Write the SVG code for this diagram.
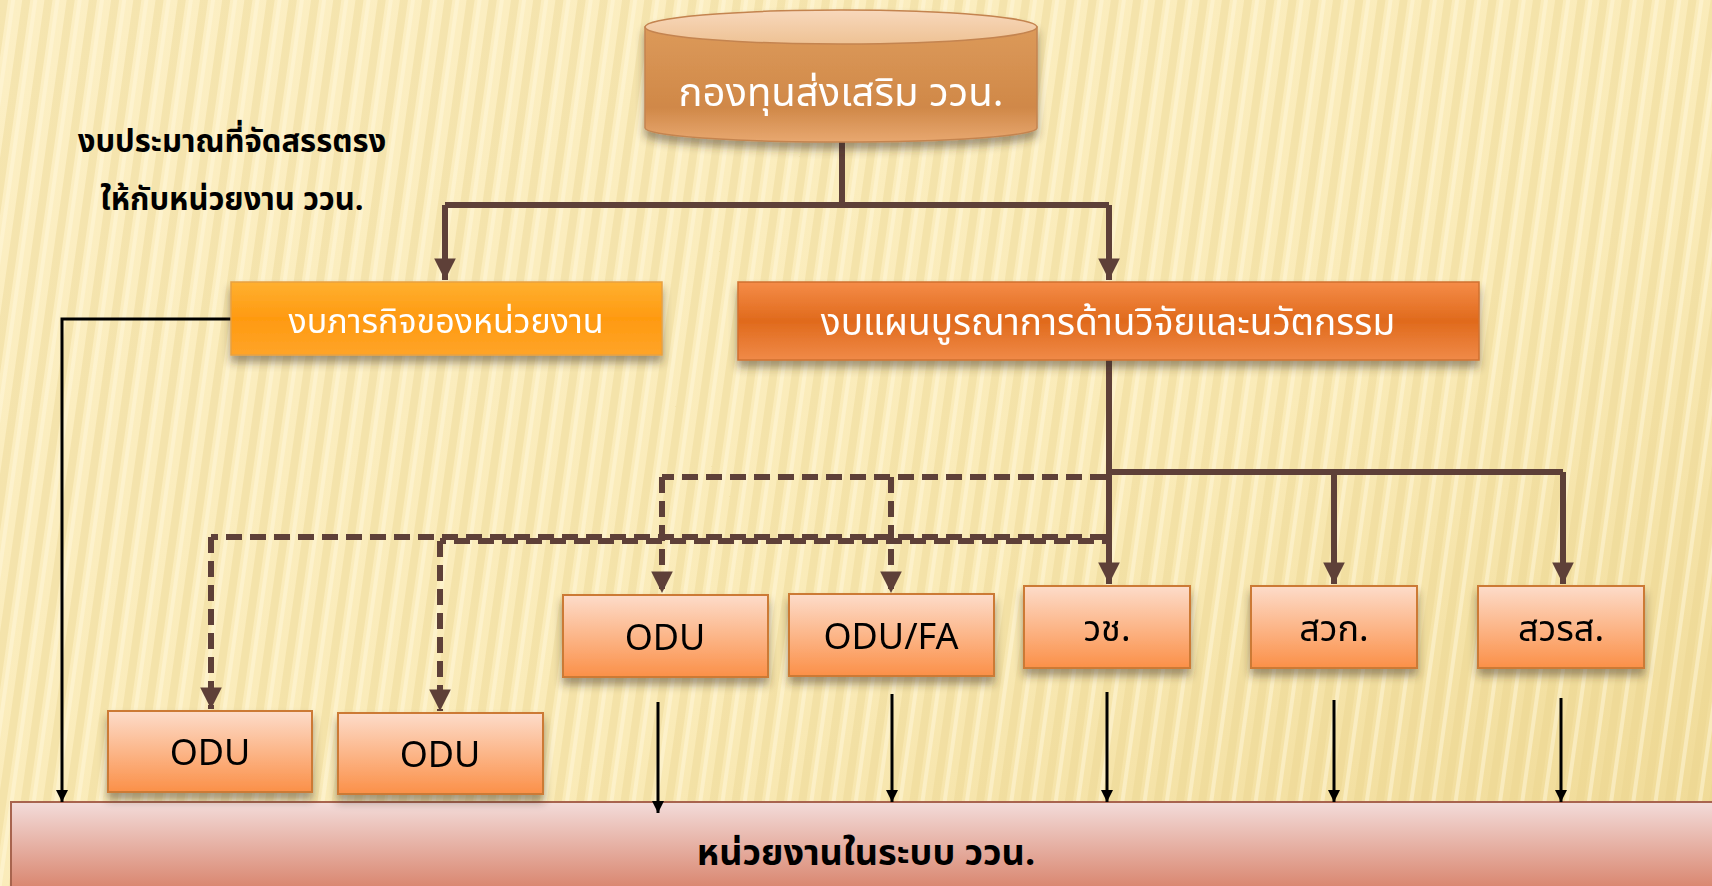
<svg xmlns="http://www.w3.org/2000/svg" width="1712" height="886" viewBox="0 0 1712 886">
<defs>
<linearGradient id="bg" x1="0" y1="0" x2="1" y2="1">
<stop offset="0" stop-color="#FCEFC4"/>
<stop offset="0.6" stop-color="#FAEBB8"/>
<stop offset="1" stop-color="#EFD994"/>
</linearGradient>
<pattern id="stripes" width="22" height="40" patternUnits="userSpaceOnUse" patternTransform="rotate(8)">
<rect x="0" width="8" height="40" fill="#E8D08A" opacity="0.35"/>
<rect x="11" width="4" height="40" fill="#FFF8DC" opacity="0.5"/>
</pattern>
<linearGradient id="cylBody" x1="0" y1="0" x2="0" y2="1">
<stop offset="0" stop-color="#DC9A5A"/>
<stop offset="0.7" stop-color="#D08848"/>
<stop offset="1" stop-color="#E8A870"/>
</linearGradient>
<linearGradient id="cylTop" x1="0" y1="0" x2="0" y2="1">
<stop offset="0" stop-color="#F8D8BC"/>
<stop offset="1" stop-color="#EEC294"/>
</linearGradient>
<linearGradient id="gA" x1="0" y1="0" x2="0" y2="1">
<stop offset="0" stop-color="#FFB030"/>
<stop offset="0.5" stop-color="#FF9A10"/>
<stop offset="1" stop-color="#FFA428"/>
</linearGradient>
<linearGradient id="gB" x1="0" y1="0" x2="0" y2="1">
<stop offset="0" stop-color="#F58C48"/>
<stop offset="0.5" stop-color="#E06A1C"/>
<stop offset="1" stop-color="#F08A48"/>
</linearGradient>
<linearGradient id="gS" x1="0" y1="0" x2="0" y2="1">
<stop offset="0" stop-color="#FDDCCA"/>
<stop offset="1" stop-color="#FB9048"/>
</linearGradient>
<linearGradient id="gBar" x1="0" y1="0" x2="0" y2="1">
<stop offset="0" stop-color="#F3DCDA"/>
<stop offset="1" stop-color="#D8826A"/>
</linearGradient>
<filter id="sh" x="-10%" y="-20%" width="120%" height="160%">
<feDropShadow dx="0" dy="7" stdDeviation="4" flood-color="#3a2a20" flood-opacity="0.45"/>
</filter>
<marker id="ab" viewBox="0 0 10 10" refX="10" refY="5" markerWidth="3.6" markerHeight="3.6" orient="auto" markerUnits="strokeWidth">
<path d="M0,0 L10,5 L0,10 z" fill="#5E4038"/>
</marker>
<marker id="ak" viewBox="0 0 10 10" refX="10" refY="5" markerWidth="8" markerHeight="4" orient="auto" markerUnits="strokeWidth">
<path d="M0,0 L10,5 L0,10 z" fill="#000"/>
</marker>
<style>
.th{font-family:"Noto Sans Thai","Noto Sans","DejaVu Sans",sans-serif;}
.w{fill:#fff;}
.k{fill:#000;}
.br{stroke:#5E4038;stroke-width:6;fill:none;}
.ds{stroke:#5E4038;stroke-width:6;fill:none;stroke-dasharray:16 8;}
.bl{stroke:#000;stroke-width:3;fill:none;}
.sm{fill:url(#gS);stroke:#CC7A34;stroke-width:2;}
</style>
</defs>
<rect width="1712" height="886" fill="url(#bg)"/>
<rect width="1712" height="886" fill="url(#stripes)"/>

<g id="note">
<text class="th k" x="232" y="152" font-size="31" font-weight="bold" text-anchor="middle">งบประมาณที่จัดสรรตรง</text>
<text class="th k" x="232" y="210" font-size="31" font-weight="bold" text-anchor="middle">ให้กับหน่วยงาน ววน.</text>
</g>

<g id="units">
<rect x="11" y="802" width="1710" height="90" fill="url(#gBar)" stroke="#A8644E" stroke-width="2"/>
<text class="th k" x="866" y="865" font-size="36" font-weight="bold" text-anchor="middle">หน่วยงานในระบบ ววน.</text>
</g>

<g id="connectors">
<path class="br" d="M842,142 V205 M445,205 H1109"/>
<path class="br" d="M445,205 V280" marker-end="url(#ab)"/>
<path class="br" d="M1109,205 V280" marker-end="url(#ab)"/>
<path class="br" d="M1109,360 V584" marker-end="url(#ab)"/>
<path class="br" d="M1109,472 H1563"/>
<path class="br" d="M1334,472 V584" marker-end="url(#ab)"/>
<path class="br" d="M1563,472 V584" marker-end="url(#ab)"/>
<path class="ds" d="M1106,477 H662"/>
<path class="ds" d="M662,477 V593" marker-end="url(#ab)"/>
<path class="ds" d="M891,477 V593" marker-end="url(#ab)"/>
<path class="ds" d="M1106,537 H211"/>
<path class="ds" d="M1106,541 H440" style="stroke-dashoffset:12"/>
<path class="ds" d="M211,537 V709" marker-end="url(#ab)"/>
<path class="ds" d="M440,541 V711" marker-end="url(#ab)"/>
<path class="bl" d="M231,319 H62 V802" marker-end="url(#ak)"/>
<path class="bl" d="M658,702 V813" marker-end="url(#ak)"/>
<path class="bl" d="M892,694 V802" marker-end="url(#ak)"/>
<path class="bl" d="M1107,692 V802" marker-end="url(#ak)"/>
<path class="bl" d="M1334,700 V802" marker-end="url(#ak)"/>
<path class="bl" d="M1561,698 V802" marker-end="url(#ak)"/>
</g>

<g id="fund" filter="url(#sh)">
<path d="M645,27 V128 A196,14 0 0 0 1037,128 V27 z" fill="url(#cylBody)" stroke="#C48450" stroke-width="1.5"/>
<ellipse cx="841" cy="27" rx="196" ry="17" fill="url(#cylTop)" stroke="#C48450" stroke-width="1.5"/>
<text class="th w" x="841" y="106" font-size="40" text-anchor="middle">กองทุนส่งเสริม ววน.</text>
</g>

<g id="mission" filter="url(#sh)">
<rect x="231" y="282" width="431" height="73" fill="url(#gA)" stroke="#E8A040" stroke-width="1.5"/>
<text class="th w" x="446" y="333" font-size="34" text-anchor="middle">งบภารกิจของหน่วยงาน</text>
</g>

<g id="integrated" filter="url(#sh)">
<rect x="738" y="282" width="741" height="78" fill="url(#gB)" stroke="#D07030" stroke-width="1.5"/>
<text class="th w" x="1108" y="335" font-size="37" text-anchor="middle">งบแผนบูรณาการด้านวิจัยและนวัตกรรม</text>
</g>

<g id="odu1" filter="url(#sh)">
<rect class="sm" x="108" y="711" width="204" height="81"/>
<text class="th k" x="210" y="765" font-size="36" text-anchor="middle">ODU</text>
</g>
<g id="odu2" filter="url(#sh)">
<rect class="sm" x="338" y="713" width="205" height="81"/>
<text class="th k" x="440" y="767" font-size="36" text-anchor="middle">ODU</text>
</g>
<g id="odu3" filter="url(#sh)">
<rect class="sm" x="563" y="595" width="205" height="82"/>
<text class="th k" x="665" y="650" font-size="36" text-anchor="middle">ODU</text>
</g>
<g id="odufa" filter="url(#sh)">
<rect class="sm" x="789" y="594" width="205" height="82"/>
<text class="th k" x="891" y="649" font-size="36" text-anchor="middle">ODU/FA</text>
</g>
<g id="nrct" filter="url(#sh)">
<rect class="sm" x="1024" y="586" width="166" height="82"/>
<text class="th k" x="1107" y="641" font-size="36" text-anchor="middle">วช.</text>
</g>
<g id="arda" filter="url(#sh)">
<rect class="sm" x="1251" y="586" width="166" height="82"/>
<text class="th k" x="1334" y="641" font-size="36" text-anchor="middle">สวก.</text>
</g>
<g id="hsri" filter="url(#sh)">
<rect class="sm" x="1478" y="586" width="166" height="82"/>
<text class="th k" x="1561" y="641" font-size="36" text-anchor="middle">สวรส.</text>
</g>
</svg>
